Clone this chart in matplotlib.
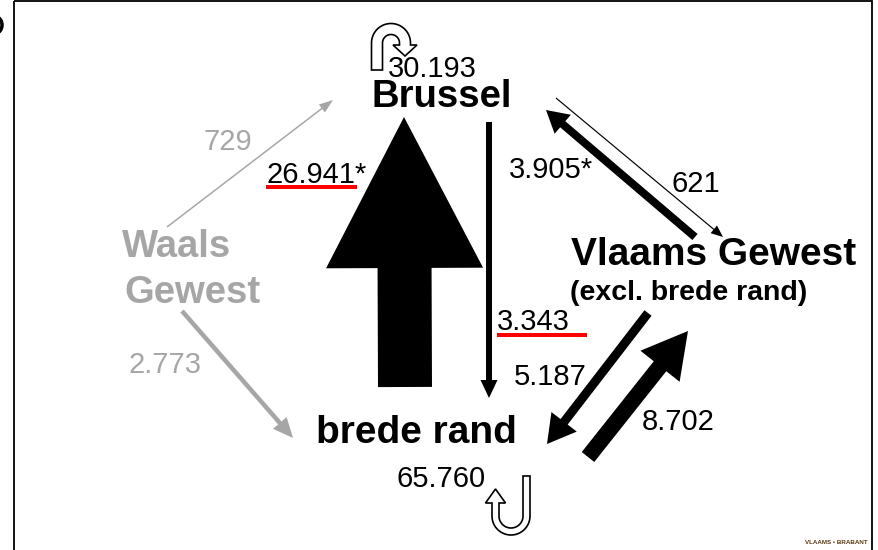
import numpy as np
import matplotlib
matplotlib.use('Agg')
import matplotlib.pyplot as plt
from matplotlib.patches import FancyArrow, PathPatch, Rectangle, Arc
from matplotlib.path import Path

plt.rcParams['font.family'] = ['Liberation Sans', 'DejaVu Sans']

# Flows between the regions (numbers of people)
flow_from = ['brede rand', 'Brussel', 'Vlaams Gewest', 'Brussel',
             'Vlaams Gewest', 'brede rand', 'Waals Gewest', 'Waals Gewest']
flow_to = ['Brussel', 'brede rand', 'Brussel', 'Vlaams Gewest',
           'brede rand', 'Vlaams Gewest', 'Brussel', 'brede rand']
flow_value = [26941, 3343, 3905, 621, 5187, 8702, 729, 2773]
flow_note = ['*', '', '*', '', '', '', '', '']

# Flows that stay inside a region
stay_region = ['Brussel', 'brede rand']
stay_value = [30193, 65760]

GRAY = '#a6a6a6'
NUM_SIZE = 21

# Layout, in pixels (y downwards)
arrow_tail = [(405, 387), (489, 122), (695, 237), (556, 98),
              (648, 313), (588, 457), (167, 227), (182, 311)]
arrow_tip = [(404, 117), (489, 398), (546, 110), (723, 237),
             (547, 444), (688, 331), (333, 100), (293, 438)]
shaft_w = [54, 6, 8, 1.2, 9, 16, 1.5, 4.5]
head_w = [157, 17, 25, 10, 32, 50, 10, 18]
head_l = [151, 18, 22, 12, 28, 45, 14, 20]
flow_color = ['black'] * 6 + [GRAY] * 2
label_xy = [(267, 183), (497, 330), (509, 178), (672, 192),
            (514, 385), (642, 430), (204, 150), (129, 373)]
red_line = [(266, 357, 187), (497, 587, 335), None, None, None, None, None, None]

region_text = {
    'Brussel': [('Brussel', 372, 107, 27.5)],
    'Vlaams Gewest': [('Vlaams Gewest', 571, 265, 28)],
    'Vlaams excl': [('(excl. brede rand)', 570, 300, 20.5)],
    'brede rand': [('brede rand', 316, 443, 28)],
    'Waals Gewest': [('Waals', 122, 257, 27.5), ('Gewest', 124, 303, 27.5)],
}
region_color = {'Brussel': 'black', 'Vlaams Gewest': 'black', 'Vlaams excl': 'black',
                'brede rand': 'black', 'Waals Gewest': GRAY}
stay_xy = [(388, 77), (397, 487)]


def fmt(v):
    return f"{v:,}".replace(",", ".")


# Hollow U-turn arrow for the flows inside a region
def hook_path(cx, cy, R, r, left_end, right_end, head_side, head_len, head_half, arc_sign):
    t = np.linspace(np.pi, 0, 50)
    lc = cx - (R + r) / 2
    rc = cx + (R + r) / 2
    pts = [(cx - r, left_end)]
    if head_side == 'left':
        tip = left_end - arc_sign * head_len
        pts += [(lc + head_half, left_end), (lc, tip), (lc - head_half, left_end)]
    pts.append((cx - R, left_end))
    pts += list(zip(cx + R * np.cos(t), cy + arc_sign * R * np.sin(t)))
    pts.append((cx + R, right_end))
    if head_side == 'right':
        tip = right_end - arc_sign * head_len
        pts += [(rc + head_half, right_end), (rc, tip), (rc - head_half, right_end)]
    pts.append((cx + r, right_end))
    pts += list(zip(cx + r * np.cos(t[::-1]), cy + arc_sign * r * np.sin(t[::-1])))
    pts.append(pts[0])
    codes = [Path.MOVETO] + [Path.LINETO] * (len(pts) - 2) + [Path.CLOSEPOLY]
    return Path(pts, codes)


hooks = [dict(cx=391, cy=43, R=19.5, r=8.5, left_end=70, right_end=45,
              head_side='right', head_len=11, head_half=12, arc_sign=-1),
         dict(cx=511, cy=516, R=19, r=12, left_end=503, right_end=476,
              head_side='left', head_len=14, head_half=10, arc_sign=1)]

fig = plt.figure(figsize=(8.79, 5.5), dpi=100)
ax = fig.add_axes([0, 0, 1, 1])
ax.set_xlim(0, 879)
ax.set_ylim(550, 0)
ax.axis('off')

# frame of the slide
ax.add_patch(Rectangle((14, 1), 858, 580, fill=False, lw=1.3, ec='black'))
ax.add_patch(Arc((-4, 25), 12, 16, theta1=-70, theta2=70, lw=2.5, color='black'))

# flows between regions
for i, v in enumerate(flow_value):
    (x0, y0), (x1, y1) = arrow_tail[i], arrow_tip[i]
    ax.add_patch(FancyArrow(x0, y0, x1 - x0, y1 - y0, width=shaft_w[i],
                            head_width=head_w[i], head_length=head_l[i],
                            length_includes_head=True, color=flow_color[i], lw=0))
    lx, ly = label_xy[i]
    ax.text(lx, ly, fmt(v) + flow_note[i], fontsize=NUM_SIZE, color=flow_color[i],
            ha='left', va='baseline')
    if red_line[i] is not None:
        rx0, rx1, ry = red_line[i]
        ax.add_patch(Rectangle((rx0, ry - 2), rx1 - rx0, 4, color='red', lw=0))

# region names
for name, parts in region_text.items():
    for txt, x, y, size in parts:
        ax.text(x, y, txt, fontsize=size, fontweight='bold',
                color=region_color[name], ha='left', va='baseline')

# flows staying inside a region
for i, v in enumerate(stay_value):
    ax.add_patch(PathPatch(hook_path(**hooks[i]), fc='white', ec='black', lw=1.2))
    ax.text(stay_xy[i][0], stay_xy[i][1], fmt(v), fontsize=NUM_SIZE,
            ha='left', va='baseline')

ax.text(868, 542, 'VLAAMS \u2022 BRABANT', fontsize=4.5, fontweight='bold',
        color='#5a3a12', ha='right', va='center')

fig.savefig('out.png', dpi=100)
